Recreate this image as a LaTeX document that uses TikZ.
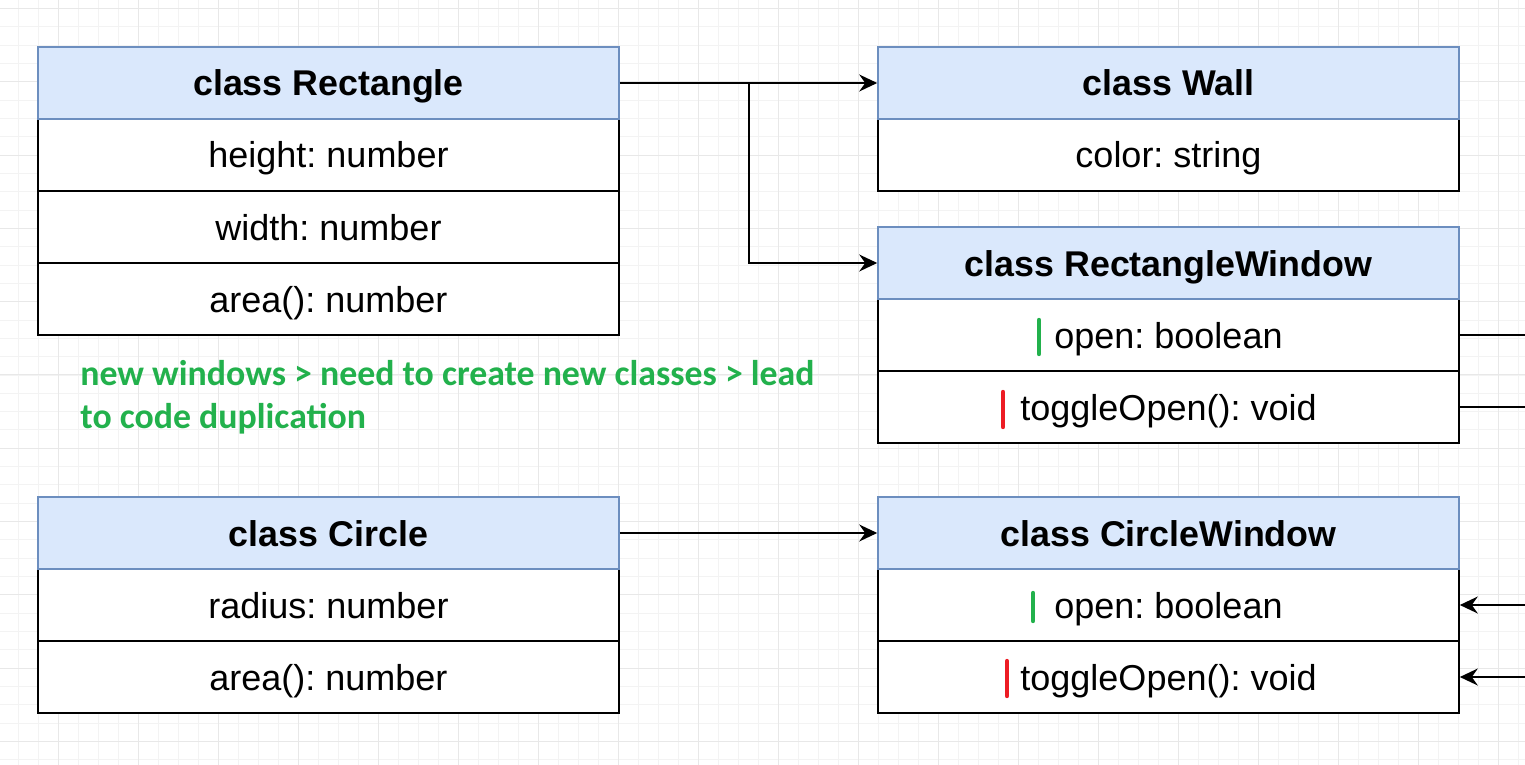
\documentclass[tikz,border=0pt]{standalone}
\usepackage{fontspec}
\setmainfont{Liberation Sans}
\newfontfamily\notefont{Carlito}
\usepackage{tikz}
\usetikzlibrary{arrows.meta}
\frenchspacing

\definecolor{headfill}{HTML}{DAE8FC}
\definecolor{headline}{HTML}{6C8EBF}
\definecolor{notegreen}{HTML}{22B14C}
\definecolor{barred}{HTML}{ED1C24}
\definecolor{gridminor}{HTML}{F3F3F3}
\definecolor{gridmajor}{HTML}{E8E8E8}

\tikzset{
  classhead/.style={draw=headline, fill=headfill, line width=0.8pt,
    minimum width=290.5pt, minimum height=36pt, inner sep=0pt,
    text height=13pt, text depth=0pt,
    font=\bfseries\fontsize{17.9}{20}\selectfont},
  classrow/.style={draw=black, fill=white, line width=0.8pt,
    minimum width=290.5pt, minimum height=36pt, inner sep=0pt,
    text height=13pt, text depth=0pt,
    font=\fontsize{18}{20}\selectfont},
  link/.style={line width=0.8pt, -{Stealth[length=9pt,width=8.5pt,inset=3pt]}},
  wire/.style={line width=0.8pt},
  note/.style={text=notegreen, align=left, inner sep=0pt,
    font=\notefont\bfseries\fontsize{17.9}{21.5}\selectfont},
  greenbar/.style={draw=notegreen, line width=2.2pt, line cap=round},
  redbar/.style={draw=barred, line width=2.2pt, line cap=round}
}

\begin{document}
\begin{tikzpicture}[x=0.5pt, y=-0.5pt]
  \useasboundingbox (0,0) rectangle (1525,765);
  \fill[white] (0,0) rectangle (1525,765);

  % Draw background grid
  \foreach \gx in {18,38,...,1518}
    \draw[gridminor, line width=0.5pt] (\gx,0) -- (\gx,765);
  \foreach \gy in {8.4,26.73,...,765}
    \draw[gridminor, line width=0.5pt] (0,\gy) -- (1525,\gy);
  \foreach \gx in {58,138,...,1518}
    \draw[gridmajor, line width=0.5pt] (\gx,0) -- (\gx,765);
  \foreach \gy in {8.4,81.7,...,765}
    \draw[gridmajor, line width=0.5pt] (0,\gy) -- (1525,\gy);

  % class Rectangle
  \node[classrow] (rectHeight) at (328.5,155) {height: number};
  \node[classrow] (rectWidth) at (328.5,227) {width: number};
  \node[classrow] (rectArea) at (328.5,299) {area(): number};
  \node[classhead] (rect) at (328.5,83) {class Rectangle};

  % class Wall
  \node[classrow] (wallColor) at (1168.5,155) {color: string};
  \node[classhead] (wall) at (1168.5,83) {class Wall};

  % class RectangleWindow
  \node[classrow] (rwOpen) at (1168.5,335) {open: boolean};
  \node[classrow] (rwToggle) at (1168.5,407) {toggleOpen(): void};
  \node[classhead] (rectWin) at (1168.5,263) {class RectangleWindow};

  % class Circle
  \node[classrow] (circRadius) at (328.5,605) {radius: number};
  \node[classrow] (circArea) at (328.5,677) {area(): number};
  \node[classhead] (circ) at (328.5,533) {class Circle};

  % class CircleWindow
  \node[classrow] (cwOpen) at (1168.5,605) {open: boolean};
  \node[classrow] (cwToggle) at (1168.5,677) {toggleOpen(): void};
  \node[classhead] (circWin) at (1168.5,533) {class CircleWindow};

  % note
  \node[note, anchor=north west] (remark) at (80,360)
    {new windows > need to create new classes > lead\\to code duplication};

  % marks in front of the members
  \draw[greenbar] (1039,320) -- (1039,354);
  \draw[redbar] (1003,392) -- (1003,427);
  \draw[greenbar] (1033,593) -- (1033,621);
  \draw[redbar] (1007,661) -- (1007,696);

  % Draw connectors
  \coordinate (branch) at (749,83);
  \draw[link] (rect.east) -- (wall.west);
  \draw[link] (branch) |- (rectWin.west);
  \draw[link] (circ.east) -- (circWin.west);

  \coordinate (outOpen) at (1525,335);
  \coordinate (outToggle) at (1525,407);
  \draw[wire] (rwOpen.east) -- (outOpen);
  \draw[wire] (rwToggle.east) -- (outToggle);

  \coordinate (inOpen) at (1525,605);
  \coordinate (inToggle) at (1525,677);
  \draw[link] (inOpen) -- (cwOpen.east);
  \draw[link] (inToggle) -- (cwToggle.east);
\end{tikzpicture}
\end{document}
